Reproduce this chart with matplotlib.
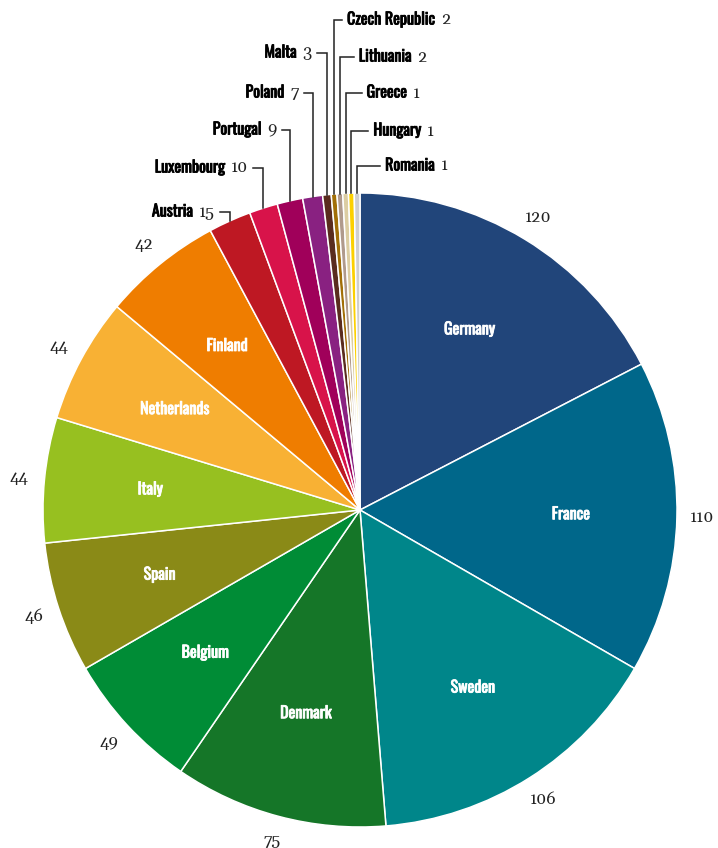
import matplotlib
matplotlib.use("Agg")
import matplotlib.pyplot as plt
import matplotlib.patheffects as pe
import numpy as np

countries = ["Germany", "France", "Sweden", "Denmark", "Belgium", "Spain",
             "Italy", "Netherlands", "Finland", "Austria", "Luxembourg",
             "Portugal", "Poland", "Malta", "Czech Republic", "Lithuania",
             "Greece", "Hungary", "Romania"]
values = [120, 110, 106, 75, 49, 46, 44, 44, 42, 15, 10, 9, 7, 3, 2, 2, 1, 1, 1]
colors = ["#21457a", "#00678a", "#00868a", "#157628", "#008c36", "#8a8a17",
          "#97c020", "#f8b134", "#ef7d00", "#be1823", "#d8134a", "#a0005a",
          "#892181", "#5a2c1e", "#a26f07", "#b09a8c", "#dccda2", "#fcd000",
          "#cfcfcf"]

# layout for the small slices labelled with leader lines (pixel rows from top)
n_big = 9
leader_y = [212, 168, 130, 93, 53, 20, 57, 93, 131, 166]
leader_side = ["L", "L", "L", "L", "L", "R", "R", "R", "R", "R"]
leader_len = [10, 10, 8, 9, 10, 8, 14, 16, 17, 23]

W, H = 718, 848
fig = plt.figure(figsize=(W / 100, H / 100), dpi=100)
ax = fig.add_axes([0, 0, 1, 1])

cx, cy, r = 360, H - 510, 317
# very small slices get a minimum drawn width so they stay visible
drawn = [max(v, 2) for v in values]
wedges, _ = ax.pie(drawn, colors=colors, startangle=90, counterclock=False,
                   center=(cx, cy), radius=r,
                   wedgeprops=dict(edgecolor="white", linewidth=1.1))
ax.set_xlim(0, W)
ax.set_ylim(0, H)
ax.set_aspect("equal")
ax.axis("off")

name_font = dict(family=["Oswald", "Fira Sans Extra Condensed", "DejaVu Sans"],
                 fontsize=11.5)
num_font = dict(family=["Gelasio", "DejaVu Serif"], fontsize=12)


def bold(color):
    # Oswald only ships a regular weight; thicken it a little
    return [pe.withStroke(linewidth=0.6, foreground=color)]


for i, w in enumerate(wedges[:n_big]):
    mid = np.deg2rad((w.theta1 + w.theta2) / 2)
    ax.text(cx + 0.665 * r * np.cos(mid), cy + 0.665 * r * np.sin(mid),
            countries[i], color="white", ha="center", va="center",
            path_effects=bold("white"), **name_font)
    ax.text(cx + 1.08 * r * np.cos(mid), cy + 1.08 * r * np.sin(mid),
            str(values[i]), color="#222222", ha="center", va="center",
            **num_font)

fig.canvas.draw()
renderer = fig.canvas.get_renderer()

for k, w in enumerate(wedges[n_big:]):
    i = n_big + k
    mid = np.deg2rad((w.theta1 + w.theta2) / 2)
    ex, ey = cx + r * np.cos(mid), cy + r * np.sin(mid)
    ly = H - leader_y[k]
    sign = -1 if leader_side[k] == "L" else 1
    hx = ex + sign * leader_len[k]
    ax.plot([ex, ex, hx], [ey, ly, ly], color="#222222", lw=1.1,
            solid_joinstyle="miter")
    tx = hx + sign * 5
    if sign < 0:
        t = ax.text(tx, ly, str(values[i]), ha="right", va="center",
                    color="#222222", **num_font)
        bb = t.get_window_extent(renderer)
        ax.text(bb.x0 - 6, ly, countries[i], ha="right", va="center",
                color="black", path_effects=bold("black"), **name_font)
    else:
        t = ax.text(tx, ly, countries[i], ha="left", va="center",
                    color="black", path_effects=bold("black"), **name_font)
        bb = t.get_window_extent(renderer)
        ax.text(bb.x1 + 6, ly, str(values[i]), ha="left", va="center",
                color="#222222", **num_font)

fig.savefig("out.png", dpi=100, facecolor="white")
